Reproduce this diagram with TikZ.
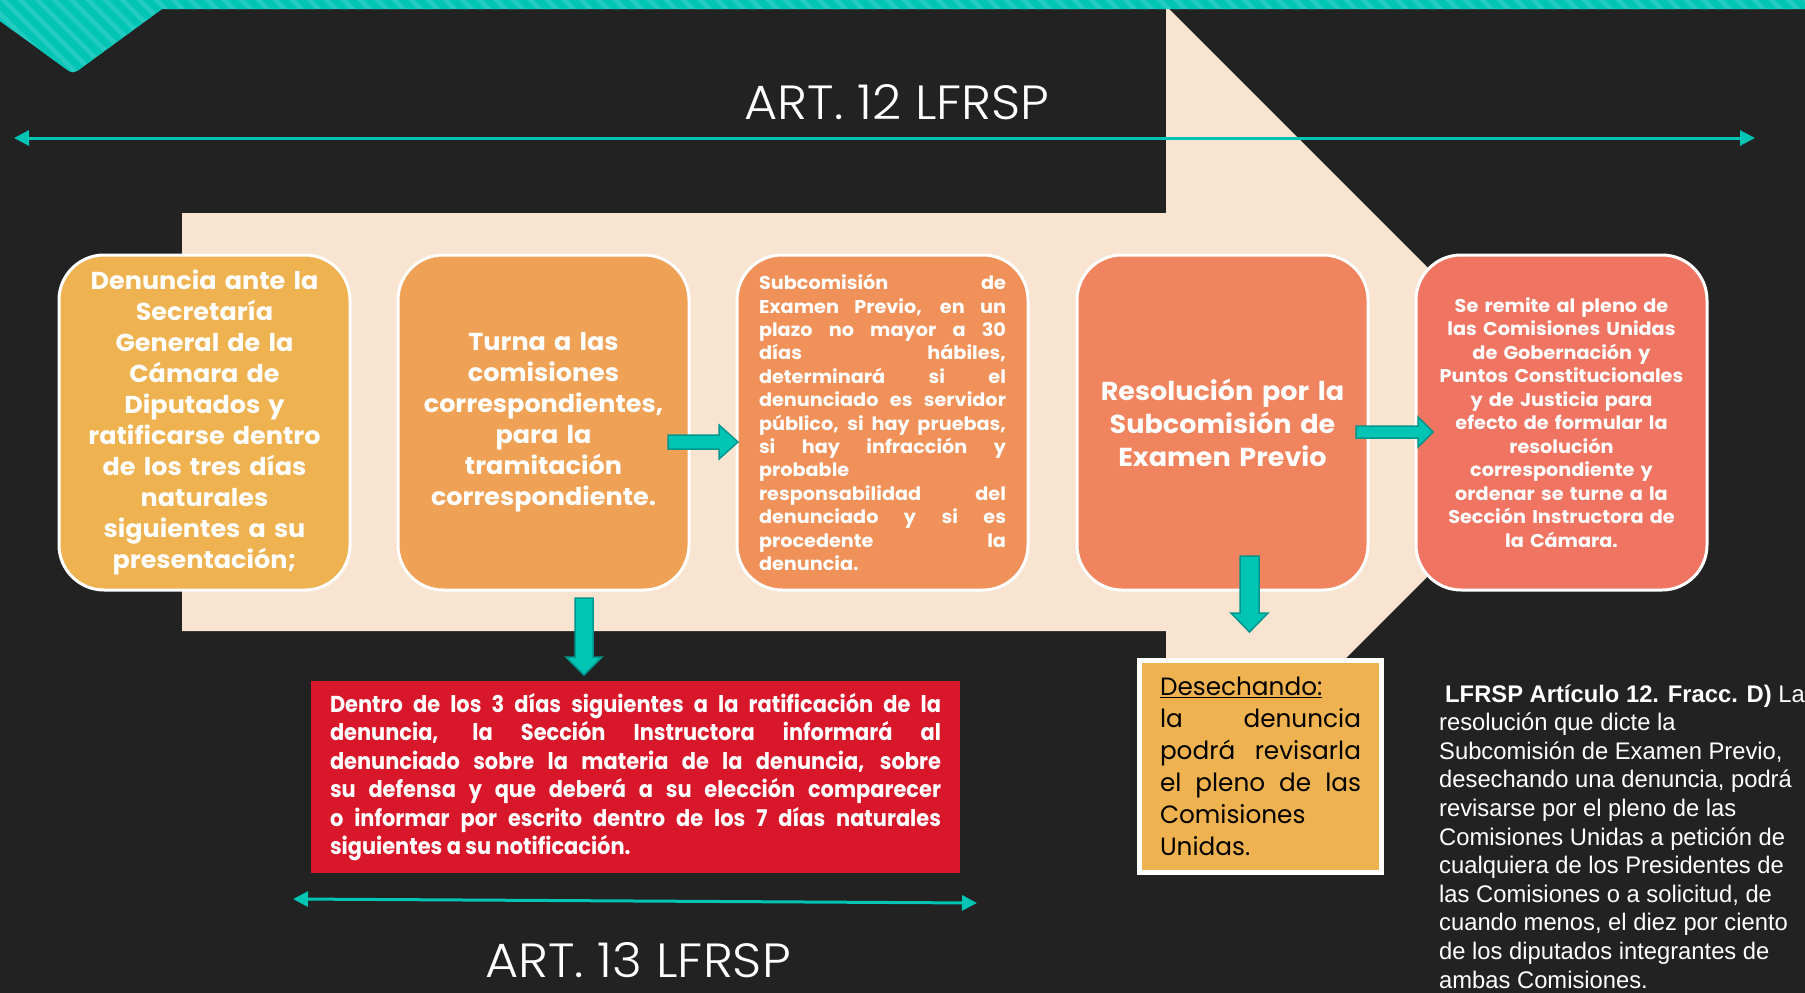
\documentclass[tikz,border=0pt]{standalone}
\usepackage{fontspec}
\setmainfont{Poppins}
\newfontfamily\boxfont[FakeStretch=1.04]{Poppins}
\newfontfamily\redfont[FakeStretch=0.91]{Poppins}
\newfontfamily\desfont[FakeStretch=0.99]{Poppins}
\newfontfamily\rfont[FakeStretch=0.99]{Liberation Sans}
\IfFontExistsTF{Poppins Light}{\newfontfamily\titlefont[FakeStretch=1.06]{Poppins Light}}{\newfontfamily\titlefont[FakeStretch=1.06]{Poppins}}
\usetikzlibrary{arrows.meta}
\definecolor{bg}{HTML}{222222}
\definecolor{beige}{HTML}{F8E4D0}
\definecolor{tealA}{HTML}{00C4B4}
\definecolor{tealB}{HTML}{22CCC0}
\definecolor{tealD}{HTML}{00968C}
\definecolor{cA}{HTML}{EEB250}
\definecolor{cB}{HTML}{EFA256}
\definecolor{cC}{HTML}{EF9159}
\definecolor{cD}{HTML}{F0845E}
\definecolor{cE}{HTML}{EF7562}
\definecolor{redbox}{HTML}{D9172A}
\tikzset{
  stepbox/.style={rounded corners=45pt, draw=white, line width=3pt,
    minimum width=291pt, minimum height=335pt, inner sep=0pt,
    text=white, align=center},
  blockarrow/.style={fill=tealA, draw=tealD, line width=1.5pt, line join=miter},
  thinarrow/.style={draw=tealA, line width=3pt,
    {Triangle[length=15pt,width=15pt]}-{Triangle[length=15pt,width=15pt]}},
  rtext/.style={text=white, inner sep=0pt, anchor=base west,
    font=\rfont\fontsize{24}{28}\selectfont}
}
\begin{document}
\begin{tikzpicture}[x=1pt,y=-1pt]
\useasboundingbox (0,0) rectangle (1805,993);
\fill[bg] (0,0) rectangle (1805,993);

% big beige arrow
\fill[beige] (182,213) -- (1166,213) -- (1166,6) -- (1582,422) -- (1166,838)
  -- (1166,631) -- (182,631) -- cycle;

% striped top band
\begin{scope}
  \clip (0,0) -- (0,21) -- (64,67.5) .. controls (73,74) .. (82,67.5)
    -- (162,9) -- (1805,9) -- (1805,0) -- cycle;
  \fill[tealB] (0,0) rectangle (1805,80);
  \foreach \k in {-100,-83,...,1820} \draw[tealA, line width=7pt] (\k,-10) -- ++(95,95);
\end{scope}

% ART 12
\coordinate (a12l) at (14,138);
\coordinate (a12r) at (1755,138);
\draw[thinarrow] (a12l) -- (a12r);
\node[text=white, inner sep=0pt, anchor=base, font=\titlefont\fontsize{48}{50}\selectfont]
  (t12) at (897,119) {ART. 12 LFRSP};

% step boxes
\node[stepbox, fill=cA, font=\boxfont\bfseries\fontsize{24.5}{31}\selectfont, text width=270pt]
  (b1) at (204.5,422.5) {Denuncia ante la\\Secretaría\\General de la\\Cámara de\\Diputados y\\ratificarse dentro\\de los tres días\\naturales\\siguientes a su\\presentación;};
\node[stepbox, fill=cB, font=\boxfont\bfseries\fontsize{24.5}{31}\selectfont, text width=270pt]
  (b2) at (543.5,422.5) {Turna a las\\comisiones\\correspondientes,\\para la\\tramitación\\correspondiente.};
\node[stepbox, fill=cC, font=\boxfont\bfseries\fontsize{18.5}{23.4}\selectfont, text width=247pt, align=justify]
  (b3) at (882.5,422.5) {Subcomisión de\linebreak Examen Previo, en un\linebreak plazo no mayor a 30\linebreak días hábiles,\linebreak determinará si el\linebreak denunciado es servidor\linebreak público, si hay pruebas,\linebreak si hay infracción y\linebreak probable\linebreak responsabilidad del\linebreak denunciado y si es\linebreak procedente la\linebreak denuncia.};
\node[stepbox, fill=cD, font=\boxfont\bfseries\fontsize{26}{33}\selectfont, text width=270pt]
  (b4) at (1222.5,422.5) {Resolución por la\\Subcomisión de\\Examen Previo};
\node[stepbox, fill=cE, font=\boxfont\bfseries\fontsize{18.5}{23.5}\selectfont, text width=275pt]
  (b5) at (1561.5,422.5) {Se remite al pleno de\\las Comisiones Unidas\\de Gobernación y\\Puntos Constitucionales\\y de Justicia para\\efecto de formular la\\resolución\\correspondiente y\\ordenar se turne a la\\Sección Instructora de\\la Cámara.};

% block arrows
\draw[blockarrow] (668,435) -- (719,435) -- (719,425) -- (738,442) -- (719,459) -- (719,449) -- (668,449) -- cycle;
\draw[blockarrow] (1356,426) -- (1418,426) -- (1418,417) -- (1433,432) -- (1418,447) -- (1418,438) -- (1356,438) -- cycle;
\draw[blockarrow] (575,598) -- (593,598) -- (593,657) -- (602,657) -- (584,675) -- (566,657) -- (575,657) -- cycle;
\draw[blockarrow] (1240,556) -- (1259,556) -- (1259,613) -- (1268,613) -- (1249.5,632) -- (1231,613) -- (1240,613) -- cycle;

% red box
\node[fill=redbox, minimum width=649pt, minimum height=192pt, inner sep=0pt, text width=611pt,
  align=justify, text=white, font=\redfont\bfseries\fontsize{23}{28.5}\selectfont]
  (red) at (635.5,777) {Dentro de los 3 días siguientes a la ratificación de la\linebreak denuncia, la Sección Instructora informará al\linebreak denunciado sobre la materia de la denuncia, sobre\linebreak su defensa y que deberá a su elección comparecer\linebreak o informar por escrito dentro de los 7 días naturales\linebreak siguientes a su notificación.};

% ART 13
\coordinate (a13l) at (293,899);
\coordinate (a13r) at (977,903);
\draw[thinarrow] (a13l) -- (a13r);
\node[text=white, inner sep=0pt, anchor=base, font=\titlefont\fontsize{48}{50}\selectfont]
  (t13) at (638,977) {ART. 13 LFRSP};

% desechando box
\node[fill=cA, draw=white, line width=5pt, minimum width=242pt, minimum height=212pt,
  inner sep=0pt, text width=201pt, align=justify, text=black,
  font=\desfont\fontsize{25}{32}\selectfont]
  (des) at (1260.5,766.5) {\underline{Desechando:}\\ la denuncia\linebreak podrá revisarla\linebreak el pleno de las\linebreak Comisiones\linebreak Unidas.};

% right text
\foreach \t [count=\i] in {
  {\hspace{6pt}\textbf{LFRSP Artículo 12. Fracc. D)} La},
  {resolución que dicte la},
  {Subcomisión de Examen Previo,},
  {desechando una denuncia, podrá},
  {revisarse por el pleno de las},
  {Comisiones Unidas a petición de},
  {cualquiera de los Presidentes de},
  {las Comisiones o a solicitud, de},
  {cuando menos, el diez por ciento},
  {de los diputados integrantes de},
  {ambas Comisiones.}}
  \node[rtext] (r\i) at (1439,{702+28.6*(\i-1)}) {\t};
\end{tikzpicture}
\end{document}
